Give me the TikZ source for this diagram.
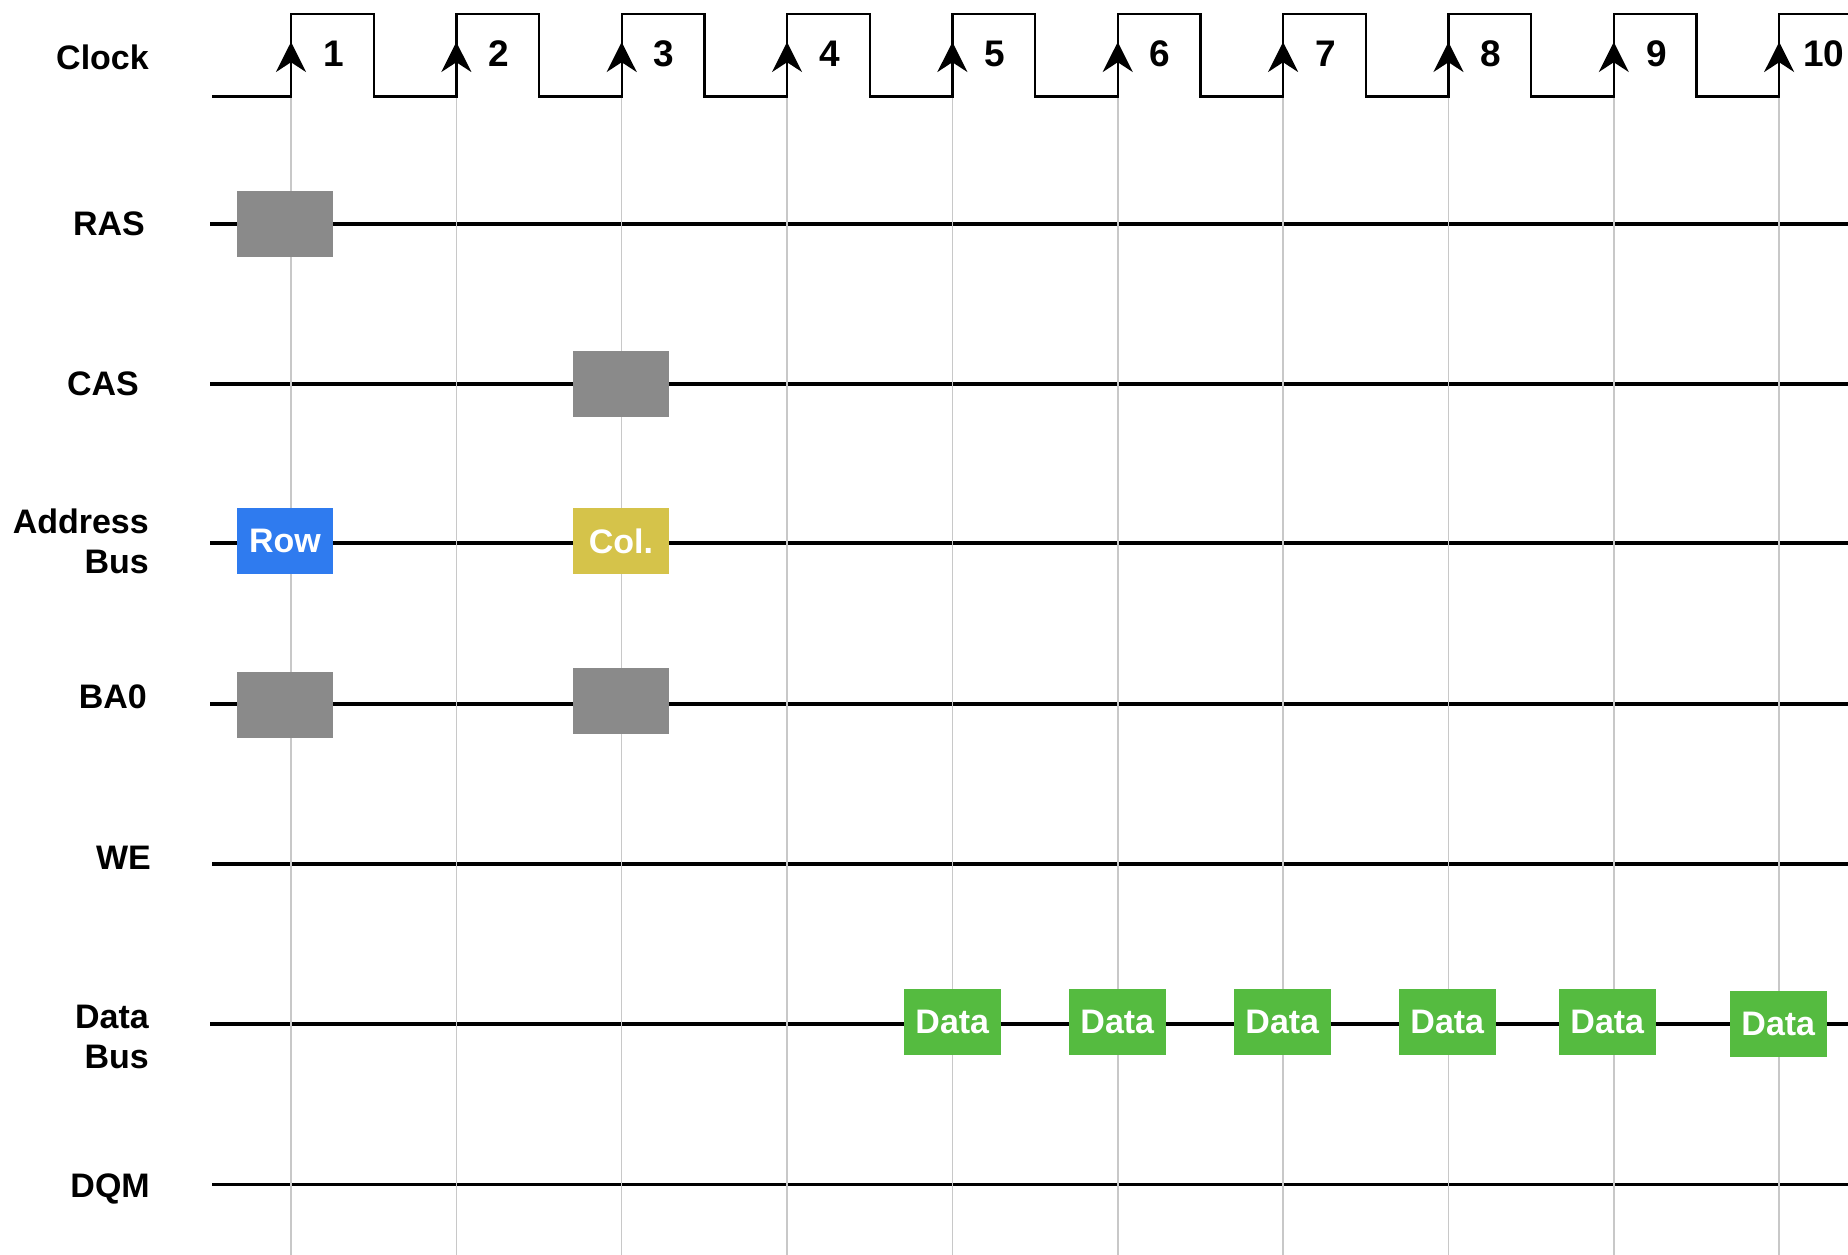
\documentclass[tikz,border=0pt]{standalone}
\usepackage{fontspec}
\setmainfont{Liberation Sans}
\usetikzlibrary{arrows.meta}
\definecolor{boxgray}{RGB}{138,138,138}
\definecolor{rowblue}{RGB}{47,123,239}
\definecolor{colyellow}{RGB}{213,195,74}
\definecolor{datagreen}{RGB}{85,187,64}
\definecolor{gridgray}{RGB}{200,200,200}
\begin{document}
\begin{tikzpicture}[x=1pt,y=-1pt,
  lbl/.style={font=\fontsize{34}{40}\selectfont\bfseries, anchor=east, align=right, inner sep=0pt},
  num/.style={font=\fontsize{37}{40}\selectfont\bfseries, anchor=west, inner sep=0pt},
  sig/.style={line width=3.5pt, black},
  clk/.style={line width=2.4pt, black, line join=miter},
  gridline/.style={line width=1.5pt, gridgray},
  blk/.style={minimum width=96.6pt, minimum height=66pt, inner sep=0pt, text=white,
              font=\fontsize{34}{40}\selectfont\bfseries},
  graybox/.style={blk, fill=boxgray},
  rowbox/.style={blk, fill=rowblue},
  colbox/.style={blk, fill=colyellow},
  databox/.style={blk, fill=datagreen},
  edgearrow/.style={line width=2.4pt, -{Stealth[length=30pt,width=30pt]}}]
\useasboundingbox (0,0) rectangle (1848,1255);
\fill[white] (0,0) rectangle (1848,1255);

% labels
\node[lbl] (lClock) at (149,57) {Clock};
\node[lbl] (lRAS) at (145,224) {RAS};
\node[lbl] (lCAS) at (139,384) {CAS};
\node[lbl] (lAddr) at (149,541) {Address\\Bus};
\node[lbl] (lBA) at (147,697) {BA0};
\node[lbl] (lWE) at (151,858) {WE};
\node[lbl] (lData) at (149,1037) {Data\\Bus};
\node[lbl] (lDQM) at (150,1189) {DQM};

% signal lines
\foreach \n/\y/\x in {RAS/224/210, CAS/384/210, Addr/543/210, BA/704/210, WE/864/212, Data/1024/210, DQM/1184.5/212} {
  \coordinate (s\n) at (\x,\y);
  \coordinate (e\n) at (1848,\y);
  \draw[sig] (s\n) -- (e\n);
}

% clock waveform
\draw[clk] (212,96.5)
  \foreach \i in {0,...,8} {
    -- ({291+165.35*\i},96.5) -- ({291+165.35*\i},14)
    -- ({373.7+165.35*\i},14) -- ({373.7+165.35*\i},96.5)
  }
  -- (1779.2,96.5) -- (1779.2,14) -- (1848,14);

% grid lines, arrows and numbers
\foreach \i/\dx in {1/32,2/32,3/32,4/32,5/32,6/32,7/32,8/32,9/32,10/24} {
  \pgfmathsetmacro{\xx}{291+165.35*(\i-1)}
  \coordinate (gt\i) at (\xx,97.5);
  \coordinate (gb\i) at (\xx,1255);
  \draw[gridline] (gt\i) -- (gb\i);
  \coordinate (ab\i) at (\xx,96.5);
  \coordinate (at\i) at (\xx,42);
  \draw[edgearrow] (ab\i) -- (at\i);
  \node[num] (n\i) at (\xx+\dx,54) {\i};
}

% boxes
\node[graybox] (rasbox) at (285,224) {};
\node[graybox] (casbox) at (621,384) {};
\node[rowbox] (rowbx) at (285,541) {Row};
\node[colbox] (colbx) at (621,541) {Col.};
\node[graybox] (ba1) at (285,704.5) {};
\node[graybox] (ba2) at (621,701) {};
\node[databox] (d1) at (952.3,1021.5) {Data};
\node[databox] (d2) at (1117.3,1021.5) {Data};
\node[databox] (d3) at (1282.3,1021.5) {Data};
\node[databox] (d4) at (1447.3,1021.5) {Data};
\node[databox] (d5) at (1607.3,1021.5) {Data};
\node[databox] (d6) at (1778.3,1023.5) {Data};
\end{tikzpicture}
\end{document}
